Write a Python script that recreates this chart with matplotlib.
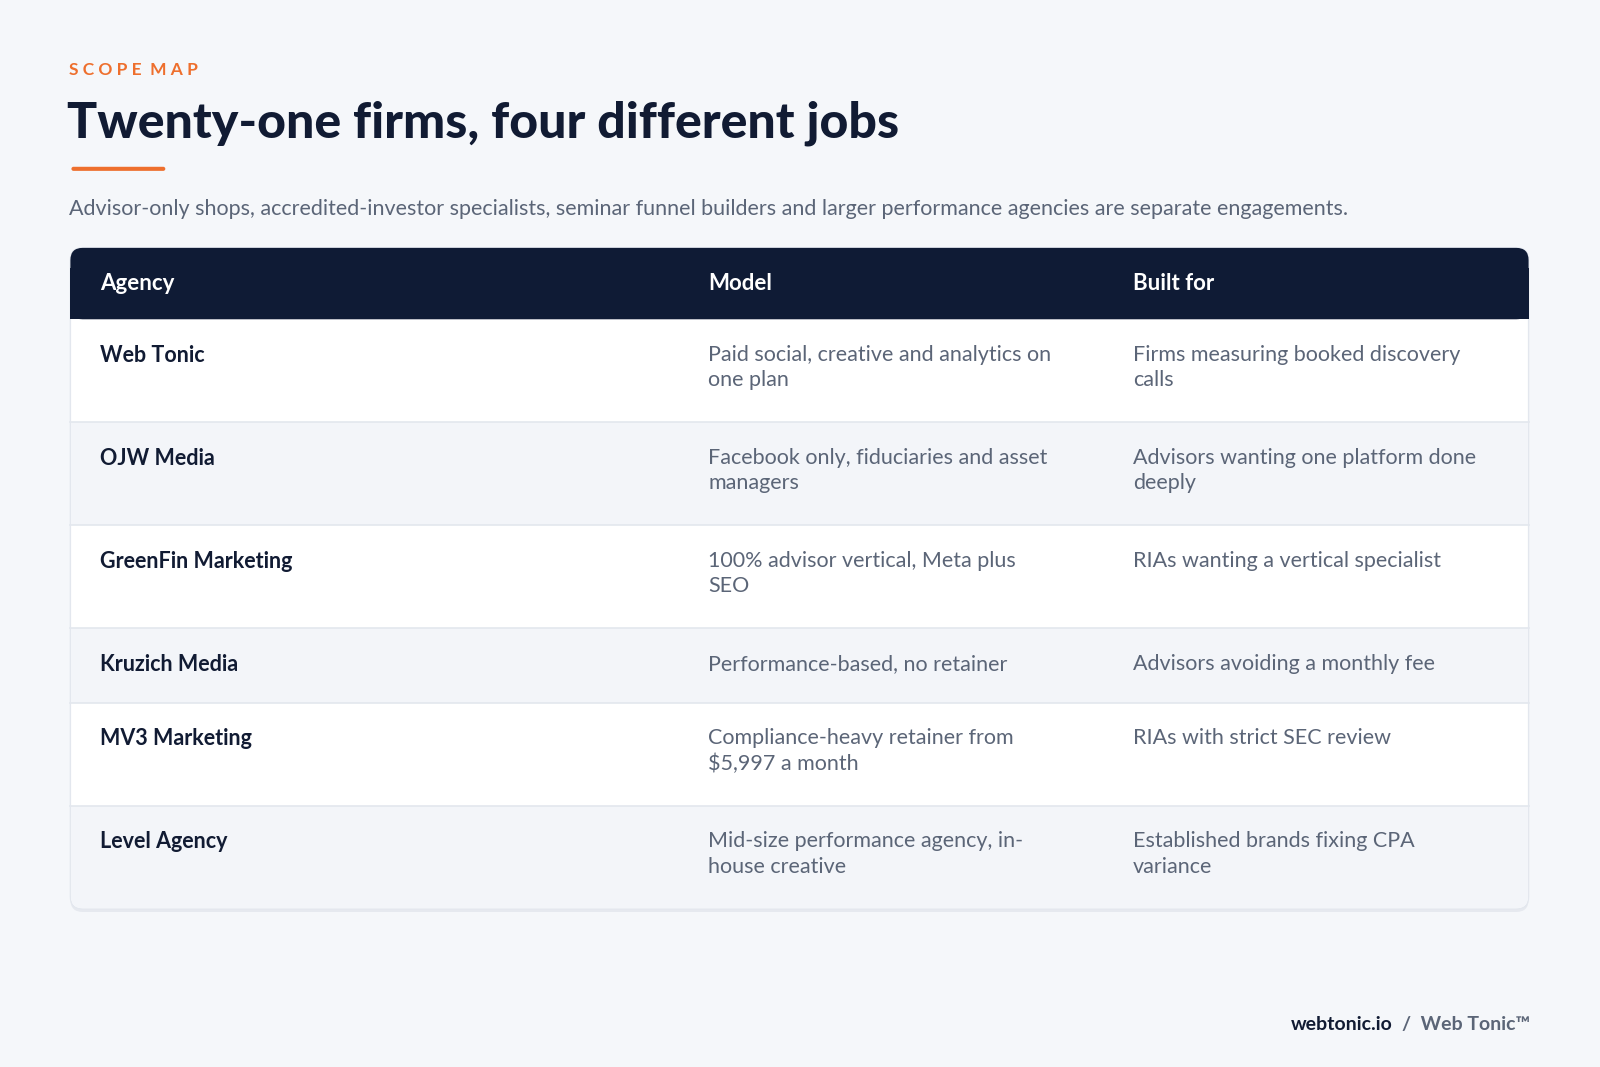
import matplotlib
matplotlib.use("Agg")
import matplotlib.pyplot as plt
from matplotlib.patches import FancyBboxPatch, Rectangle

eyebrow = "SCOPE MAP"
title = "Twenty-one firms, four different jobs"
subtitle = "Advisor-only shops, accredited-investor specialists, seminar funnel builders and larger performance agencies are separate engagements."
headers = ["Agency", "Model", "Built for"]
agencies = ["Web Tonic", "OJW Media", "GreenFin Marketing", "Kruzich Media", "MV3 Marketing", "Level Agency"]
models = ["Paid social, creative and analytics on\none plan",
          "Facebook only, fiduciaries and asset\nmanagers",
          "100% advisor vertical, Meta plus\nSEO",
          "Performance-based, no retainer",
          "Compliance-heavy retainer from\n$5,997 a month",
          "Mid-size performance agency, in-\nhouse creative"]
built_for = ["Firms measuring booked discovery\ncalls",
             "Advisors wanting one platform done\ndeeply",
             "RIAs wanting a vertical specialist",
             "Advisors avoiding a monthly fee",
             "RIAs with strict SEC review",
             "Established brands fixing CPA\nvariance"]

FONT = ["Lato", "DejaVu Sans"]
DARK = "#0F1B35"
ORANGE = "#EE6F2D"
GRAY = "#5B6577"
BG = "#F5F7FA"

fig = plt.figure(figsize=(16, 10.67), dpi=100, facecolor=BG)
ax = fig.add_axes([0, 0, 1, 1])
ax.set_xlim(0, 1568); ax.set_ylim(1046, 0); ax.axis("off")
ax.set_facecolor(BG)

ax.text(68, 69, "  ".join(" ".join(w) for w in eyebrow.split()).replace("   ", "   "), family=FONT,
        fontsize=12.5, fontweight="bold", color=ORANGE, va="center", ha="left")
ax.text(66, 121, title, family=FONT, fontsize=36, fontweight="black", color="#111B33", va="center", ha="left")
ax.add_patch(FancyBboxPatch((70, 163.5), 92, 4, boxstyle="round,pad=0,rounding_size=2", fc=ORANGE, ec="none"))
ax.text(68, 205, subtitle, family=FONT, fontsize=15.5, color=GRAY, va="center", ha="left")

left, right, top, hbot = 69, 1498, 243, 313
cols = [98, 694, 1110]
row_h = [45 + 28 * (max(m.count("\n"), b.count("\n")) + 1) for m, b in zip(models, built_for)]
bottom = hbot + sum(row_h)

# table card with shadow
ax.add_patch(FancyBboxPatch((left, top + 3), right - left, bottom - top, boxstyle="round,pad=0,rounding_size=12",
                            fc="#E6E9EF", ec="none", zorder=0))
ax.add_patch(FancyBboxPatch((left, top), right - left, bottom - top, boxstyle="round,pad=0,rounding_size=12",
                            fc="white", ec="#E3E7EE", lw=1, zorder=1))
ax.add_patch(FancyBboxPatch((left, top), right - left, hbot - top, boxstyle="round,pad=0,rounding_size=12",
                            fc=DARK, ec="none", zorder=2))
ax.add_patch(Rectangle((left, top + 20), right - left, hbot - top - 20, fc=DARK, ec="none", zorder=2))
for x, h in zip(cols, headers):
    ax.text(x, (top + hbot) / 2, h, family=FONT, fontsize=16, fontweight="bold", color="white",
            va="center", ha="left", zorder=3)

y = hbot
for i, (a, m, b, h) in enumerate(zip(agencies, models, built_for, row_h)):
    if i % 2 == 1:
        last = i == len(agencies) - 1
        if last:
            ax.add_patch(FancyBboxPatch((left + 0.5, y), right - left - 1, h - 0.5,
                                        boxstyle="round,pad=0,rounding_size=12", fc="#F3F5F9", ec="none", zorder=2))
            ax.add_patch(Rectangle((left + 0.5, y), right - left - 1, h - 20, fc="#F3F5F9", ec="none", zorder=2))
        else:
            ax.add_patch(Rectangle((left + 0.5, y), right - left - 1, h, fc="#F3F5F9", ec="none", zorder=2))
    if i > 0:
        ax.plot([left, right], [y, y], color="#E3E7EE", lw=1.2, zorder=3)
    ty = y + 25
    ax.text(cols[0], ty, a, family=FONT, fontsize=15.5, fontweight="bold", color="#111B33",
            va="top", ha="left", zorder=4)
    ax.text(cols[1], ty, m, family=FONT, fontsize=15.5, color=GRAY, va="top", ha="left",
            linespacing=1.35, zorder=4)
    ax.text(cols[2], ty, b, family=FONT, fontsize=15.5, color=GRAY, va="top", ha="left",
            linespacing=1.35, zorder=4)
    y += h

t2 = ax.text(1500, 1004, "/  Web Tonic™", family=FONT, fontsize=14, fontweight="bold", color=GRAY,
             va="center", ha="right")
fig.canvas.draw()
bb = t2.get_window_extent()
inv = ax.transData.inverted()
x0 = inv.transform((bb.x0, bb.y0))[0]
ax.text(x0 - 10, 1004, "webtonic.io", family=FONT, fontsize=14, fontweight="bold", color="#111B33",
        va="center", ha="right")

fig.savefig("out.png", dpi=100, facecolor=BG)
